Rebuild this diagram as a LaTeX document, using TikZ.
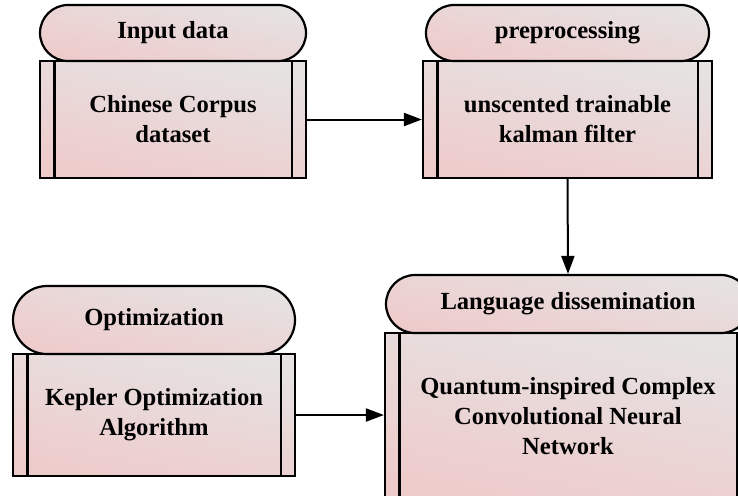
\documentclass[tikz,border=0pt]{standalone}
\usepackage{fontspec}
\setmainfont{Liberation Serif}
\usetikzlibrary{shapes.misc,arrows.meta}

\definecolor{pinkT}{RGB}{230,226,226}
\definecolor{pinkB}{RGB}{238,203,203}

\tikzset{
	pinkfill/.style = {top color=pinkT, bottom color=pinkB, shading angle=-12},
	tag/.style = {rounded rectangle, draw, line width=1.1pt, pinkfill, inner sep=0pt,
		font=\bfseries\fontsize{12.3}{15}\selectfont},
	body/.style = {rectangle, draw, line width=1.1pt, pinkfill, inner sep=0pt, align=center,
		font=\bfseries\fontsize{12.3}{15}\selectfont},
	link/.style = {-{Triangle[length=9pt,width=6.5pt]}, line width=1pt}
}

\begin{document}
\begin{tikzpicture}[x=0.5pt,y=-0.5pt]
	\clip (0,0) rectangle (738,495);
	% input
	\node[body, minimum width=133pt, minimum height=58.5pt] (corpus) at (173,119.5) {Chinese Corpus\\dataset};
	\node[tag, minimum width=133pt, minimum height=28pt] (input) at (173,33) {Input data};
	% preprocessing
	\node[body, minimum width=144.5pt, minimum height=58.5pt] (ukf) at (567.5,119.5) {unscented trainable\\kalman filter};
	\node[tag, minimum width=141.5pt, minimum height=28pt] (prep) at (567.5,33) {preprocessing};
	% optimization
	\node[body, minimum width=141pt, minimum height=61pt] (koa) at (154,415) {Kepler Optimization\\Algorithm};
	\node[tag, minimum width=141pt, minimum height=34pt] (optim) at (154,320) {Optimization};
	% dissemination
	\node[body, minimum width=183pt, minimum height=83pt] (qccnn) at (568,416) {Quantum-inspired Complex\\Convolutional Neural\\Network};
	\node[tag, minimum width=182pt, minimum height=29pt] (lang) at (568,304) {Language dissemination};
	% side bars
	\foreach \b in {corpus,ukf,koa,qccnn} {
		\draw[line width=1.1pt] ([xshift=7.75pt]\b.north west) -- ([xshift=7.75pt]\b.south west);
		\draw[line width=1.1pt] ([xshift=-7.75pt]\b.north east) -- ([xshift=-7.75pt]\b.south east);
	}
	% arrows
	\draw[link] (corpus.east) -- (ukf.west);
	\draw[link] (ukf.south) -- (lang.north);
	\draw[link] (koa.east) -- (koa.east -| qccnn.west);
\end{tikzpicture}
\end{document}
